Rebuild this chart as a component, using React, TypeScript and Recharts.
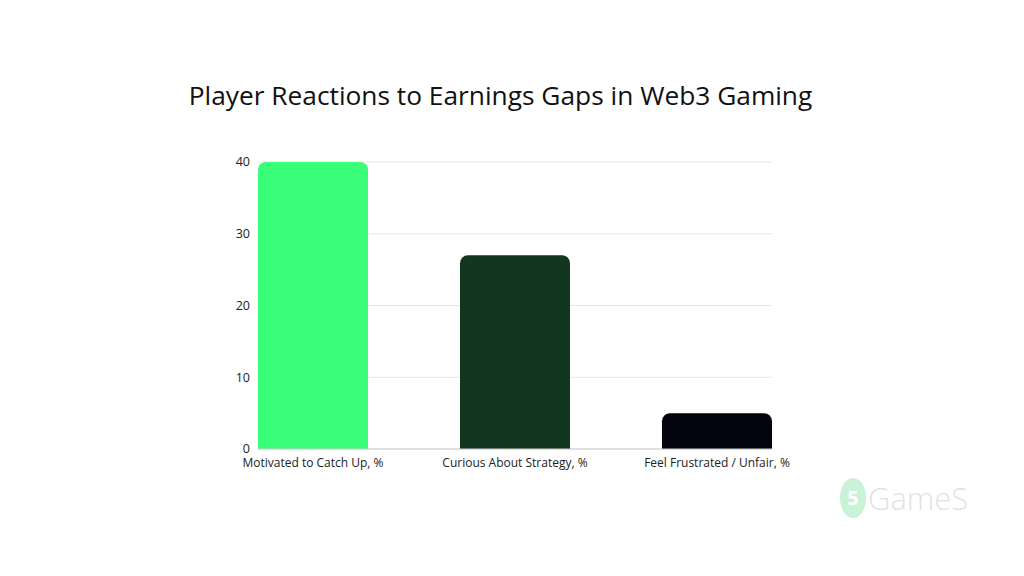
import React from "react";
import { BarChart, Bar, XAxis, YAxis, CartesianGrid, Cell } from "recharts";

const categories = ["Motivated to Catch Up, %", "Curious About Strategy, %", "Feel Frustrated / Unfair, %"];
const values = [40, 27, 5];
const colors = ["#39FE79", "#13361E", "#03040E"];
const yTicks = [0, 10, 20, 30, 40];
const title = "Player Reactions to Earnings Gaps in Web3 Gaming";

const data = categories.map((name, i) => ({ name, value: values[i] }));

const FONT = "'Open Sans', sans-serif";

export default function App() {
  return (
    <div style={{ position: "absolute", left: 0, top: 0, width: 1024, height: 576, background: "#fff", fontFamily: FONT, overflow: "hidden" }}>
      <div style={{ position: "absolute", left: 0, width: 1001, top: 77, textAlign: "center", fontSize: 26.3, color: "#111", whiteSpace: "nowrap" }}>
        {title}
      </div>
      <BarChart
        width={1024}
        height={576}
        data={data}
        margin={{ top: 162, right: 252, bottom: 97, left: 228 }}
        style={{ position: "absolute", left: 0, top: 0 }}
      >
        <CartesianGrid vertical={false} stroke="#e8e8e8" />
        <XAxis
          dataKey="name"
          scale="point"
          padding={{ left: 55, right: 55 }}
          height={30}
          tickLine={false}
          tickSize={0}
          tickMargin={9}
          axisLine={{ stroke: "#cccccc" }}
          tick={{ fontSize: 12, fill: "#222", fontFamily: FONT }}
          interval={0}
        />
        <YAxis
          width={30}
          domain={[0, 40]}
          ticks={yTicks}
          axisLine={false}
          tickLine={false}
          tickSize={0}
          tickMargin={8}
          tick={{ fontSize: 12.5, fill: "#222", fontFamily: FONT, dy: "0.3em" }}
        />
        <Bar dataKey="value" barSize={110} radius={[8, 8, 0, 0]} isAnimationActive={false}>
          {data.map((d, i) => (
            <Cell key={d.name} fill={colors[i]} />
          ))}
        </Bar>
      </BarChart>
      <div style={{ position: "absolute", left: 840, top: 478, width: 26, height: 40, borderRadius: "50%", background: "#c9f3d6", color: "#fff", fontSize: 20, fontWeight: 700, textAlign: "center", lineHeight: "40px" }}>
        5
      </div>
      <div style={{ position: "absolute", left: 868, top: 478, fontSize: 31, color: "#e2e2e2", lineHeight: "40px", fontWeight: 300 }}>
        GameS
      </div>
    </div>
  );
}
